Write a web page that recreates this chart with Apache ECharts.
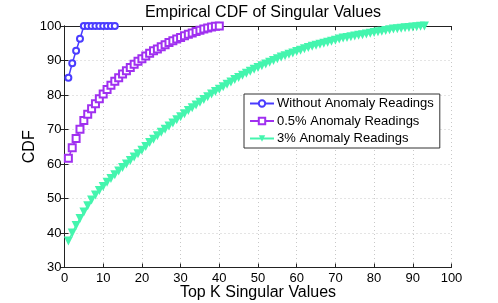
<!DOCTYPE html>
<html>
<head>
<meta charset="utf-8">
<script src="https://cdn.jsdelivr.net/npm/echarts@6/dist/echarts.min.js"></script>
<style>html,body{margin:0;padding:0;background:#fff}#c{width:498px;height:303px}</style>
</head>
<body>
<div id="c"></div>
<script>
var seriesNames = ['Without Anomaly Readings', '0.5% Anomaly Readings', '3% Anomaly Readings'];
var noAnomaly = [85.0, 89.2, 92.8, 96.3, 100, 100, 100, 100, 100, 100, 100, 100, 100];
var halfPct = [61.7, 64.7, 67.4, 70.1, 72.6, 74.4, 76.0, 77.5, 78.9, 80.3, 81.6, 82.8, 84.0, 85.0, 86.1, 87.0, 88.0, 88.9, 89.8, 90.5,
  91.3, 92.1, 92.8, 93.3, 94.0, 94.6, 95.2, 95.7, 96.2, 96.7, 97.2, 97.6, 98.0, 98.4, 98.8, 99.1, 99.4, 99.7, 99.9, 100];
var threePct = [37.7, 40.0, 42.2, 44.2, 46.1, 47.9, 49.6, 51.0, 52.3, 53.5, 54.7, 55.8, 56.9, 58.0, 59.0, 60.0, 61.0, 62.0, 63.0, 64.0,
  65.1, 66.2, 67.2, 68.2, 69.2, 70.1, 71.0, 71.9, 72.8, 73.7, 74.6, 75.5, 76.3, 77.1, 77.9, 78.7, 79.5, 80.3, 81.0, 81.7,
  82.4, 83.1, 83.8, 84.5, 85.1, 85.7, 86.3, 86.9, 87.5, 88.0, 88.5, 89.0, 89.5, 90.0, 90.5, 91.0, 91.4, 91.8, 92.2, 92.6,
  93.0, 93.4, 93.8, 94.1, 94.4, 94.7, 95.0, 95.3, 95.6, 95.9, 96.2, 96.5, 96.7, 96.9, 97.1, 97.3, 97.5, 97.7, 97.9, 98.1,
  98.3, 98.5, 98.7, 98.9, 99.1, 99.2, 99.35, 99.5, 99.6, 99.7, 99.8, 99.9, 100];
var colors = ['#4a3cff', '#a030f0', '#44f5ae'];

function pairs(arr) { return arr.map(function (v, i) { return [i + 1, v]; }); }

var font = 'Liberation Sans, Arial, Helvetica, sans-serif';
var chart = echarts.init(document.getElementById('c'), null, { renderer: 'canvas' });
var tickStyle = { show: true, inside: true, length: 4, lineStyle: { color: '#222', width: 1 } };
chart.setOption({
  animation: false,
  backgroundColor: '#fff',
  title: {
    text: 'Empirical CDF of Singular Values', left: 258, textAlign: 'center', top: 0,
    textStyle: { fontFamily: font, fontSize: 16, fontWeight: 'normal', color: '#000' }
  },
  grid: { left: 64.5, right: 46.5, top: 26, bottom: 35.5, containLabel: false, outerBoundsMode: 'none' },
  legend: {
    orient: 'vertical', left: 244, top: 94,
    backgroundColor: '#fff', borderColor: '#333', borderWidth: 1, borderRadius: 0,
    padding: [3, 6, 3, 5], itemGap: 4.5, itemWidth: 24, itemHeight: 8,
    textStyle: { fontFamily: font, fontSize: 13, color: '#000', padding: [0, 0, 0, -2] },
    data: seriesNames
  },
  xAxis: [{
    type: 'value', min: 0, max: 100, interval: 10,
    name: 'Top K Singular Values', nameLocation: 'middle', nameGap: 17, nameMoveOverlap: false,
    nameTextStyle: { fontFamily: font, fontSize: 16, color: '#000' },
    axisLine: { show: true, lineStyle: { color: '#222', width: 1 } },
    axisTick: tickStyle,
    axisLabel: { fontFamily: font, fontSize: 13, color: '#000', margin: 4 },
    splitLine: { show: true, lineStyle: { color: '#c8c8c8', type: [1, 3], width: 1 } }
  }, {
    type: 'value', min: 0, max: 100, interval: 10, position: 'top',
    axisLine: { show: true, lineStyle: { color: '#222', width: 1 } },
    axisTick: tickStyle, axisLabel: { show: false }, splitLine: { show: false }
  }],
  yAxis: [{
    type: 'value', min: 30, max: 100, interval: 10,
    name: 'CDF', nameLocation: 'middle', nameGap: 27, nameMoveOverlap: false,
    nameTextStyle: { fontFamily: font, fontSize: 16, color: '#000' },
    axisLine: { show: true, lineStyle: { color: '#222', width: 1 } },
    axisTick: tickStyle,
    axisLabel: { fontFamily: font, fontSize: 13, color: '#000', margin: 3 },
    splitLine: { show: true, lineStyle: { color: '#c8c8c8', type: [1, 3], width: 1 } }
  }, {
    type: 'value', min: 30, max: 100, interval: 10, position: 'right',
    axisLine: { show: true, lineStyle: { color: '#222', width: 1 } },
    axisTick: tickStyle, axisLabel: { show: false }, splitLine: { show: false }
  }],
  series: [{
    name: seriesNames[0], type: 'line', data: pairs(noAnomaly),
    symbol: 'emptyCircle', symbolSize: 6,
    lineStyle: { color: colors[0], width: 1.5 },
    itemStyle: { color: colors[0], borderWidth: 1.3 }, z: 4
  }, {
    name: seriesNames[1], type: 'line', data: pairs(halfPct),
    symbol: 'emptyRect', symbolSize: 7,
    lineStyle: { color: colors[1], width: 1.5 },
    itemStyle: { color: colors[1], borderWidth: 1.8 }, z: 3
  }, {
    name: seriesNames[2], type: 'line', data: pairs(threePct),
    symbol: 'triangle', symbolRotate: 180, symbolSize: 9,
    lineStyle: { color: colors[2], width: 1.5 },
    itemStyle: { color: colors[2] }, z: 2
  }]
});
</script>
</body>
</html>
